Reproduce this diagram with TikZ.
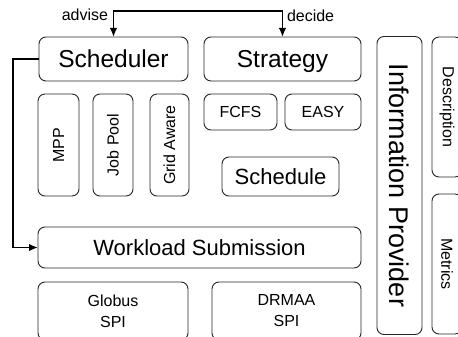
\documentclass[tikz,border=0pt]{standalone}
\usepackage{fontspec}
\setmainfont{Liberation Sans}
\usetikzlibrary{arrows.meta}
\begin{document}
\begin{tikzpicture}[x=1pt,y=-1pt]
\tikzset{ >={Latex[length=9pt,width=7.5pt]}, inner sep=0pt, outer sep=0pt,
  box/.style={draw=black!85, line width=0.9pt, rounded corners=7pt},
  big/.style={font=\fontsize{22}{24}\selectfont, text depth=0pt},
  head/.style={font=\fontsize{24.5}{27}\selectfont, text depth=0pt},
  small/.style={font=\fontsize{16}{21}\selectfont, align=center},
  link/.style={line width=1.8pt},
}
\useasboundingbox (0,0) rectangle (458,337);

% top layer
\node [box, head, minimum width=149pt, minimum height=44pt] (SCH) at (113.5,59) {Scheduler};
\node [box, head, minimum width=157pt, minimum height=44pt] (STR) at (282.5,59) {Strategy};

% scheduler parts
\node [box, small, rotate=90, minimum width=102pt, minimum height=41pt] (MPP) at (58.5,145) {MPP};
\node [box, small, rotate=90, minimum width=102pt, minimum height=40pt] (JP)  at (113,145)  {Job Pool};
\node [box, small, rotate=90, minimum width=102pt, minimum height=39pt] (GA)  at (169.5,145) {Grid Aware};

% strategy parts
\node [box, small, minimum width=73pt, minimum height=36pt] (FCFS) at (240.5,112) {FCFS};
\node [box, small, minimum width=76pt, minimum height=36pt] (EASY) at (323,112)   {EASY};
\node [box, big, minimum width=117pt, minimum height=39pt] (SCHED) at (280.5,176.5) {Schedule};

% submission layer
\node [box, big, minimum width=323pt, minimum height=41pt] (WLS) at (199.5,247.5) {Workload Submission};
\node [box, small, minimum width=150pt, minimum height=58pt] (GLB) at (113,311)   {Globus\\SPI};
\node [box, small, minimum width=149pt, minimum height=58pt] (DRM) at (286.5,311) {DRMAA\\SPI};

% information provider
\node [box, big, font=\fontsize{27}{30}\selectfont, rotate=-90, minimum width=298pt, minimum height=45pt] (INF) at (399.5,185.5) {Information Provider};
\node [box, small, rotate=-90, minimum width=140pt, minimum height=30pt] (DES) at (447,107)   {Description};
\node [box, small, rotate=-90, minimum width=140pt, minimum height=30pt] (MET) at (447,264)   {Metrics};

% connectors
\coordinate (TOP) at (113.5,11);
\draw [<->, link] (SCH.north) -- (TOP) -| (STR.north);
\coordinate (BEND) at (13,59);
\draw [->, link] (SCH.west) -- (BEND) |- (WLS.west);

\node [small, anchor=east] (ADV) at (108,15) {advise};
\node [small, anchor=west] (DEC) at (287,16) {decide};

\end{tikzpicture}
\end{document}
